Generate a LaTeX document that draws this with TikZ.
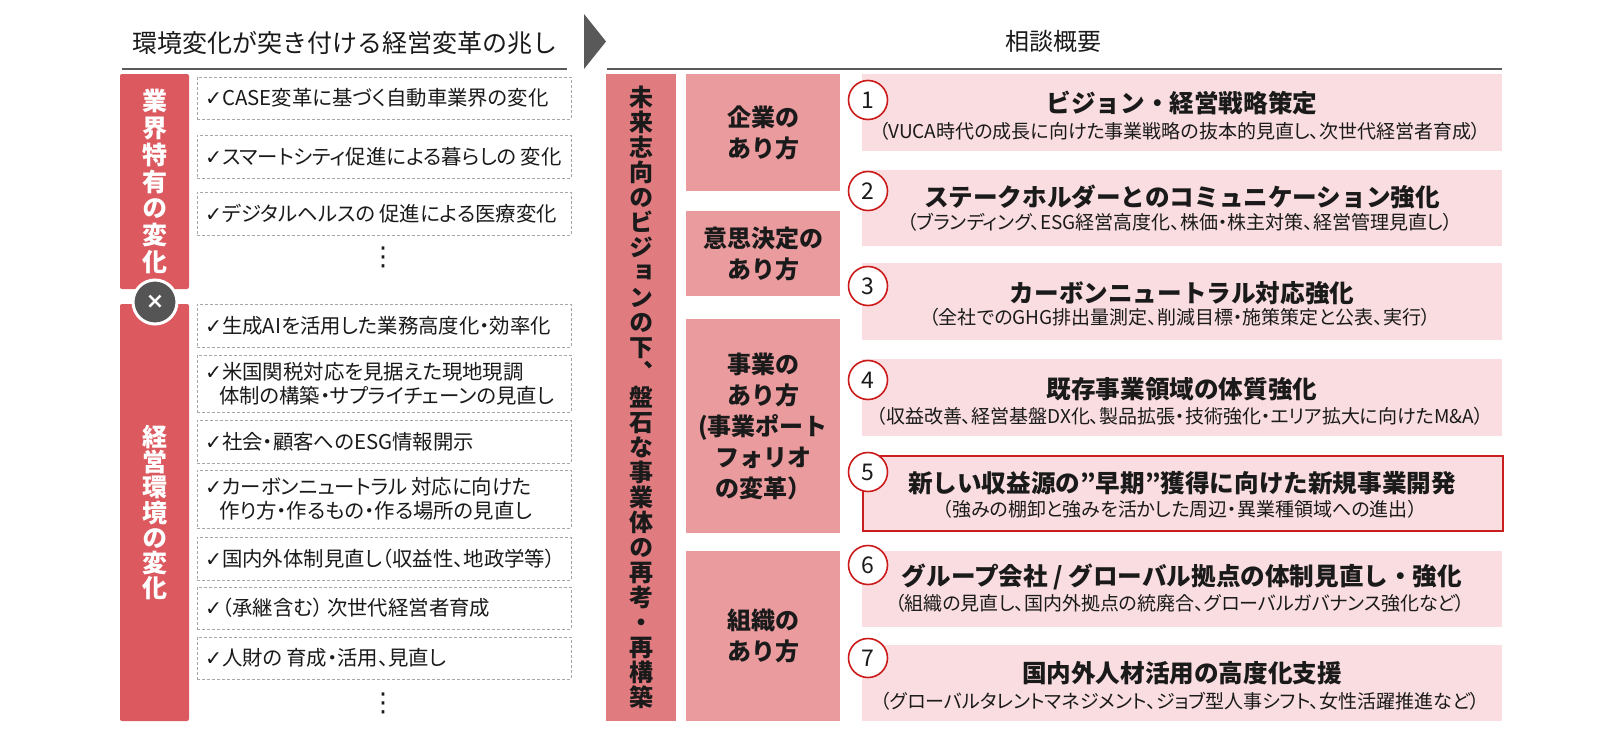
\documentclass[tikz,border=0pt]{standalone}
\usepackage{fontspec}
\setmainfont{Noto Sans CJK JP}
\newfontfamily\propfont{Noto Sans CJK JP}[RawFeature=+palt]
\newfontfamily\vertfont{Noto Sans CJK JP}[RawFeature=+vert]
\newfontfamily\symfont{DejaVu Sans}
\usetikzlibrary{positioning}
\definecolor{CBarRed}{HTML}{DC5A5F}
\definecolor{CVision}{HTML}{E07B7F}
\definecolor{CTopic}{HTML}{E99B9E}
\definecolor{CRow}{HTML}{F9DDE0}
\definecolor{CNum}{HTML}{CC1A1A}
\definecolor{CFocus}{HTML}{C81E1E}
\definecolor{CRule}{HTML}{595959}
\definecolor{CDash}{HTML}{A6A6A6}
\definecolor{CCross}{HTML}{555555}
\definecolor{CInk}{HTML}{1A1A1A}
\tikzset{
  rule/.style={draw=CRule,line width=1pt},
  headtext/.style={text=CInk,font=\fontsize{12.5}{14}\selectfont,inner sep=0pt},
  bar/.style={fill=CBarRed,rounded corners=1pt,minimum width=34.5pt,inner sep=0pt,
              text=white,align=center,font=\vertfont\bfseries\fontsize{12.5}{13.4}\selectfont},
  cross/.style={circle,fill=CCross,draw=white,line width=1.5pt,minimum size=22pt,inner sep=0pt,
                text=white,font=\symfont\bfseries\fontsize{11}{11}\selectfont},
  item/.style={draw=CDash,dash pattern=on 1.5pt off 1pt,line width=0.5pt,fill=white,
               text width=179pt,inner xsep=4pt,inner ysep=0pt,align=left,text=CInk,
               font=\propfont\fontsize{10.2}{12}\selectfont},
  dots/.style={text=CInk,inner sep=0pt,font=\symfont\fontsize{13}{13}\selectfont},
  vision/.style={fill=CVision,minimum width=35pt,inner sep=0pt,align=center,text=CInk,
                 font=\vertfont\bfseries\fontsize{12}{12.5}\selectfont},
  topic/.style={fill=CTopic,minimum width=77pt,inner sep=0pt,align=center,text=CInk,
                font=\bfseries\fontsize{12}{15.5}\selectfont},
  rowbox/.style={fill=CRow,minimum width=320pt,inner sep=0pt},
  focus/.style={rowbox,draw=CFocus,line width=0.8pt},
  rowtitle/.style={text=CInk,inner sep=0pt,font=\bfseries\fontsize{12.3}{14}\selectfont},
  rowsub/.style={text=CInk,inner sep=0pt,font=\propfont\fontsize{9.5}{11}\selectfont},
  num/.style={circle,draw=CNum,fill=white,line width=0.8pt,minimum size=19.5pt,inner sep=0pt,
              text=CInk,font=\fontsize{11.5}{11.5}\selectfont},
}

\begin{document}
\begin{tikzpicture}[x=0.5pt,y=-0.5pt]
  \useasboundingbox[fill=white] (0,0) rectangle (1600,744);

  % headings
  \node[headtext] (lhead) at (345,43) {環境変化が突き付ける経営変革の兆し};
  \node[headtext,font=\fontsize{12}{14}\selectfont] (rhead) at (1053,41) {相談概要};
  \draw[rule] (122,69) -- (567,69);
  \draw[rule] (607,69) -- (1502,69);
  \fill[CRule] (584,14) -- (606,41.5) -- (584,69) -- cycle;

  % left: signs of change
  \node[bar,minimum height=107.5pt] (indbar) at (154.5,181.5) {業\\界\\特\\有\\の\\変\\化};
  \node[bar,minimum height=208.5pt,font=\vertfont\bfseries\fontsize{12.5}{12.6}\selectfont]
    (envbar) at (154.5,512.5) {経\\営\\環\\境\\の\\変\\化};
  \node[cross] (times) at (155,302) {×};

  \node[item,minimum height=21pt] (i1) at (384,98)
    {{\symfont ✓}CASE変革に基づく自動車業界の変化};
  \node[item,minimum height=21.5pt] (i2) at (384,156.5)
    {{\symfont ✓}スマートシティ促進による暮らしの\kern2pt 変化};
  \node[item,minimum height=21.5pt] (i3) at (384,213.5)
    {{\symfont ✓}デジタルヘルスの\kern2pt 促進による医療変化};
  \node[dots] (d1) at (383,257) {⋮};

  \node[item,minimum height=21.5pt] (i4) at (384,325.5)
    {{\symfont ✓}生成AIを活用した業務高度化・効率化};
  \node[item,minimum height=28.5pt] (i5) at (384,383.5)
    {{\symfont ✓}米国関税対応を見据えた現地現調\\\hspace*{7pt}体制の構築・サプライチェーンの見直し};
  \node[item,minimum height=21.5pt] (i6) at (384,441.5)
    {{\symfont ✓}社会・顧客へのESG情報開示};
  \node[item,minimum height=29pt] (i7) at (384,499)
    {{\symfont ✓}カーボンニュートラル\kern2pt 対応に向けた\\\hspace*{7pt}作り方・作るもの・作る場所の見直し};
  \node[item,minimum height=21.5pt] (i8) at (384,558.5)
    {{\symfont ✓}国内外体制見直し（収益性、地政学等）};
  \node[item,minimum height=21pt] (i9) at (384,608)
    {{\symfont ✓}（承継含む）\kern2pt 次世代経営者育成};
  \node[item,minimum height=21pt] (i10) at (384,658)
    {{\symfont ✓}人財の\kern2pt 育成・活用、見直し};
  \node[dots] (d2) at (383,703) {⋮};

  % right: consultation outline
  \node[vision,minimum height=323.5pt] (vis) at (641,397.5)
    {未\\来\\志\\向\\の\\ビ\\ジ\\ョ\\ン\\の\\下\\、\\盤\\石\\な\\事\\業\\体\\の\\再\\考\\・\\再\\構\\築};

  \node[topic,minimum height=58.5pt] (corp) at (763,132.5) {企業の\\あり方};
  \node[topic,minimum height=42.5pt] (decide) at (763,253.5) {意思決定の\\あり方};
  \node[topic,minimum height=107pt] (biz) at (763,426) {事業の\\あり方\\(事業ポート\\フォリオ\\の変革）};
  \node[topic,minimum height=85pt] (org) at (763,636) {組織の\\あり方};

  \node[rowbox,minimum height=38.5pt] (r1) at (1182,112.5) {};
  \node[rowtitle] (t1) at (1182,103) {ビジョン・経営戦略策定};
  \node[rowsub] (s1) at (1180,131) {（VUCA時代の成長に向けた事業戦略の抜本的見直し、次世代経営者育成）};
  \node[num] (n1) at (868,100) {1};

  \node[rowbox,minimum height=38pt] (r2) at (1182,208) {};
  \node[rowtitle] (t2) at (1182,197) {ステークホルダーとのコミュニケーション強化};
  \node[rowsub] (s2) at (1180,222) {（ブランディング、ESG経営高度化、株価・株主対策、経営管理見直し）};
  \node[num] (n2) at (868,191) {2};

  \node[rowbox,minimum height=38.5pt] (r3) at (1182,301.5) {};
  \node[rowtitle] (t3) at (1182,293) {カーボンニュートラル対応強化};
  \node[rowsub] (s3) at (1180,317) {（全社でのGHG排出量測定、削減目標・施策策定と公表、実行）};
  \node[num] (n3) at (868,286) {3};

  \node[rowbox,minimum height=38.5pt] (r4) at (1182,397.5) {};
  \node[rowtitle] (t4) at (1182,389) {既存事業領域の体質強化};
  \node[rowsub] (s4) at (1180,416) {（収益改善、経営基盤DX化、製品拡張・技術強化・エリア拡大に向けたM\&A）};
  \node[num] (n4) at (868,380) {4};

  \node[focus,minimum height=37.5pt] (r5) at (1183,493.5) {};
  \node[rowtitle] (t5) at (1182,483) {新しい収益源の”早期”獲得に向けた新規事業開発};
  \node[rowsub] (s5) at (1180,509) {（強みの棚卸と強みを活かした周辺・異業種領域への進出）};
  \node[num] (n5) at (868,472) {5};

  \node[rowbox,minimum height=38pt] (r6) at (1182,589) {};
  \node[rowtitle] (t6) at (1182,577) {グループ会社 / グローバル拠点の体制見直し・強化};
  \node[rowsub] (s6) at (1180,603) {（組織の見直し、国内外拠点の統廃合、グローバルガバナンス強化など）};
  \node[num] (n6) at (868,565) {6};

  \node[rowbox,minimum height=38pt] (r7) at (1182,683) {};
  \node[rowtitle] (t7) at (1182,673) {国内外人材活用の高度化支援};
  \node[rowsub] (s7) at (1180,701) {（グローバルタレントマネジメント、ジョブ型人事シフト、女性活躍推進など）};
  \node[num] (n7) at (868,658) {7};
\end{tikzpicture}
\end{document}
